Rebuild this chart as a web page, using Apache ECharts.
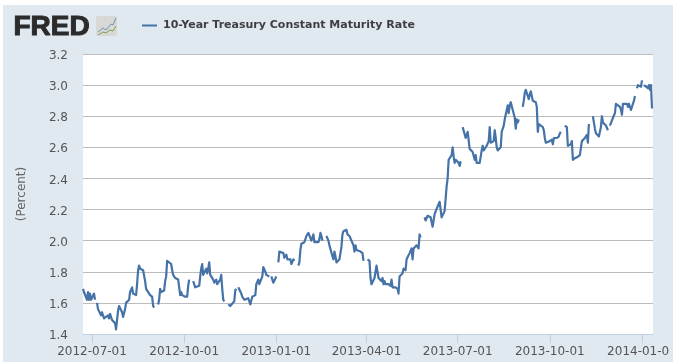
<!DOCTYPE html>
<html>
<head>
<meta charset="utf-8">
<title>10-Year Treasury Constant Maturity Rate</title>
<script src="https://cdn.jsdelivr.net/npm/echarts@6/dist/echarts.min.js"></script>
<style>
  html, body { margin: 0; padding: 0; background: #fff; }
  #chart { position: absolute; left: 3px; top: 5px; width: 670px; height: 357px; }
</style>
</head>
<body>
<div id="chart"></div>
<script>
const seriesName = "10-Year Treasury Constant Maturity Rate";
const yTicks = [1.4, 1.6, 1.8, 2.0, 2.2, 2.4, 2.6, 2.8, 3.0, 3.2];
const xTicks = ["2012-07-01", "2012-10-01", "2013-01-01", "2013-04-01", "2013-07-01", "2013-10-01", "2014-01-01"];
const firstDay = "2012-06-21";
const axisStart = "2012-06-22";
const axisEnd = "2014-01-12";

// one value per weekday from firstDay (Thu), one row per week, null = market holiday
const rates = [
  1.69, 1.67,
  1.62, 1.67, 1.62, 1.66, 1.62,
  1.66, 1.62, null, 1.60, 1.56,
  1.52, 1.54, 1.54, 1.50, 1.51,
  1.52, 1.50, 1.53, 1.54, 1.49,
  1.47, 1.43, 1.44, 1.55, 1.58,
  1.54, 1.51, 1.51, 1.56, 1.60,
  1.62, 1.67, 1.68, 1.70, 1.66,
  1.65, 1.72, 1.81, 1.84, 1.82,
  1.81, 1.81, 1.74, 1.69, 1.68,
  1.65, 1.66, 1.64, 1.58, 1.57,
  null, 1.59, 1.62, 1.69, 1.67,
  1.68, 1.74, 1.77, 1.87, 1.88,
  1.85, 1.81, 1.78, 1.79, 1.76,
  1.75, 1.70, 1.65, 1.67, 1.65,
  1.64, 1.64, 1.64, 1.71, 1.75,
  null, 1.74, 1.72, 1.70, 1.70,
  1.71, 1.77, 1.82, 1.85, 1.78,
  1.82, 1.79, 1.82, 1.86, 1.78,
  1.75, 1.73, 1.74, 1.75, 1.72,
  1.75, 1.78, 1.69, 1.62, 1.61,
  null, 1.59, 1.59, 1.58, 1.58,
  1.61, 1.68, 1.69, null, 1.70,
  1.66, 1.64, 1.63, 1.62, 1.62,
  1.63, 1.62, 1.59, 1.59, 1.64,
  1.65, 1.72, 1.73, 1.75, 1.72,
  1.77, 1.83, 1.82, 1.80, 1.78,
  1.77, null, 1.77, 1.75, 1.73,
  1.77, null, 1.86, 1.93, 1.92,
  1.92, 1.89, 1.88, 1.91, 1.88,
  1.88, 1.85, 1.84, 1.88, 1.87,
  null, 1.84, 1.86, 1.94, 1.98,
  1.99, 2.00, 2.03, 2.02, 2.05,
  2.00, 2.00, 2.04, 1.99, 1.99,
  1.99, 2.01, 2.05, 2.03, 2.00,
  null, 2.03, 2.02, 2.00, 1.97,
  1.90, 1.88, 1.93, 1.90, 1.86,
  1.88, 1.89, 1.96, 2.04, 2.06,
  2.07, 2.04, 2.04, 2.03, 2.02,
  1.97, 1.93, 1.97, 1.94, 1.93,
  1.93, 1.93, 1.92, 1.87, null,
  1.88, 1.88, 1.87, 1.76, 1.72,
  1.76, 1.80, 1.84, 1.84, 1.76,
  1.74, 1.76, 1.72, 1.74, 1.72,
  1.72, 1.72, 1.71, 1.75, 1.70,
  1.70, 1.70, 1.69, 1.66, 1.77,
  1.79, 1.82, 1.81, 1.81, 1.88,
  1.92, 1.93, 1.95, 1.88, 1.95,
  1.97, 1.96, 1.95, 2.04, 2.02,
  null, 2.15, 2.13, 2.13, 2.16,
  2.15, 2.15, 2.09, 2.09, 2.17,
  2.22, 2.22, 2.25, 2.20, 2.15,
  2.19, 2.20, 2.35, 2.40, 2.52,
  2.55, 2.60, 2.54, 2.50, 2.52,
  2.50, 2.48, 2.51, null, 2.73,
  2.66, 2.65, 2.70, 2.70, 2.59,
  2.57, 2.56, 2.52, 2.55, 2.50,
  2.50, 2.50, 2.58, 2.61, 2.58,
  2.61, 2.62, 2.64, 2.73, 2.63,
  2.64, 2.71, 2.66, 2.60, 2.58,
  2.60, 2.70, 2.71, 2.74, 2.78,
  2.87, 2.82, 2.87, 2.89, 2.90,
  2.79, 2.72, 2.78, 2.76, 2.78,
  null, 2.86, 2.90, 2.95, 2.97,
  2.91, 2.94, 2.96, 2.93, 2.90,
  2.89, 2.86, 2.70, 2.75, 2.76,
  2.73, 2.71, 2.66, 2.63, 2.64,
  2.64, 2.65, 2.65, 2.62, 2.66,
  2.66, 2.65, 2.67, 2.69, 2.70,
  null, 2.74, 2.74, 2.73, 2.61,
  2.62, 2.64, 2.52, 2.51, 2.53,
  2.54, 2.54, 2.55, 2.56, 2.64,
  2.66, 2.67, 2.68, 2.63, 2.75,
  null, 2.80, 2.76, 2.72, 2.69,
  2.67, 2.66, 2.73, 2.80, 2.76,
  2.74, 2.73, 2.71, null, 2.74,
  2.79, 2.80, 2.82, 2.88, 2.87,
  2.86, 2.84, 2.81, 2.88, 2.88,
  2.88, 2.86, 2.88, 2.89, 2.84,
  2.90, 2.93, null, 2.98, 3.00,
  2.99, 3.03, null, 3.00, 3.01,
  2.98, 3.00, 2.97, 3.00, 2.85
];

const DAY = 86400000;

function weekdaySeries() {
  let out = [];
  let t = Date.parse(firstDay + "T00:00:00Z");
  for (let i = 0; i < rates.length; i++) {
    // the source plots each close one day right of its date tick
    out.push([t + DAY, rates[i]]);
    t += DAY;
    let wd = new Date(t).getUTCDay();
    if (wd === 6) t += 2 * DAY;
  }
  return out;
}

const tickTimes = xTicks.map(d => Date.parse(d + "T00:00:00Z"));

let myChart = echarts.init(document.getElementById("chart"));
let option = {
  animation: false,
  backgroundColor: "#e0e8f0",
  textStyle: { fontFamily: "DejaVu Sans" },
  color: ["#4572a7"],
  legend: {
    left: 134,
    top: 10,
    icon: "rect",
    itemWidth: 15,
    itemHeight: 2,
    itemGap: 0,
    textStyle: { color: "#3e3e43", fontSize: 11, fontWeight: "bold", fontFamily: "DejaVu Sans", padding: [0, 0, 0, 1] },
    data: [seriesName]
  },
  grid: { left: 80, right: 20, top: 49, bottom: 28, show: true, backgroundColor: "#fff", borderWidth: 0, outerBoundsMode: "none" },
  xAxis: {
    // plain value axis over ms: quarter ticks are not evenly spaced so they are listed
    type: "value",
    min: Date.parse(axisStart + "T00:00:00Z"),
    max: Date.parse(axisEnd + "T00:00:00Z"),
    splitLine: { show: false },
    axisLine: { show: true, lineStyle: { color: "#c0d0e0", width: 1 } },
    axisTick: { show: true, length: 9, lineStyle: { color: "#c0d0e0" }, customValues: tickTimes },
    axisLabel: {
      color: "#555",
      fontSize: 12,
      margin: 12,
      hideOverlap: false,
      customValues: tickTimes,
      formatter: function(value) {
        return new Date(value).toISOString().slice(0, 10);
      }
    }
  },
  yAxis: {
    type: "value",
    min: yTicks[0],
    max: yTicks[yTicks.length - 1],
    interval: 0.2,
    name: "(Percent)",
    nameLocation: "middle",
    nameGap: 55,
    nameTextStyle: { color: "#666", fontSize: 12 },
    axisLine: { show: false },
    axisTick: { show: false },
    splitLine: { show: true, lineStyle: { color: "#bcbcbc", width: 1 } },
    axisLabel: {
      color: "#555",
      fontSize: 12,
      margin: 15,
      verticalAlign: "top",
      lineHeight: 4,
      formatter: function(value) {
        return value.toFixed(1);
      }
    }
  },
  series: [
    {
      name: seriesName,
      type: "line",
      showSymbol: false,
      connectNulls: false,
      lineStyle: { width: 2.2, color: "#4572a7", join: "round" },
      data: weekdaySeries()
    }
  ],
  // FRED wordmark and its little chart icon, plus a strip that cuts the last label short
  graphic: [
    { type: "text", left: 10, top: 8, style: { text: "FRED", fill: "#2b2b2b", stroke: "#2b2b2b", lineWidth: 1, font: "bold 28px 'Liberation Sans'" } },
    { type: "rect", shape: { x: 93, y: 11, width: 21, height: 20, r: 2 }, style: { fill: "#d8d8d4" } },
    { type: "polyline", shape: { points: [[95, 27], [100, 23], [103, 25], [108, 19], [110, 20], [113, 13]] }, style: { stroke: "#6f93b5", fill: "none", lineWidth: 1 } },
    { type: "polyline", shape: { points: [[95, 30], [100, 27], [103, 28], [107, 25], [110, 26], [113, 21]] }, style: { stroke: "#7f9f55", fill: "none", lineWidth: 1 } },
    { type: "rect", z: 100, shape: { x: 667, y: 335, width: 3, height: 22 }, style: { fill: "#e0e8f0" } }
  ]
};
myChart.setOption(option);
</script>
</body>
</html>
